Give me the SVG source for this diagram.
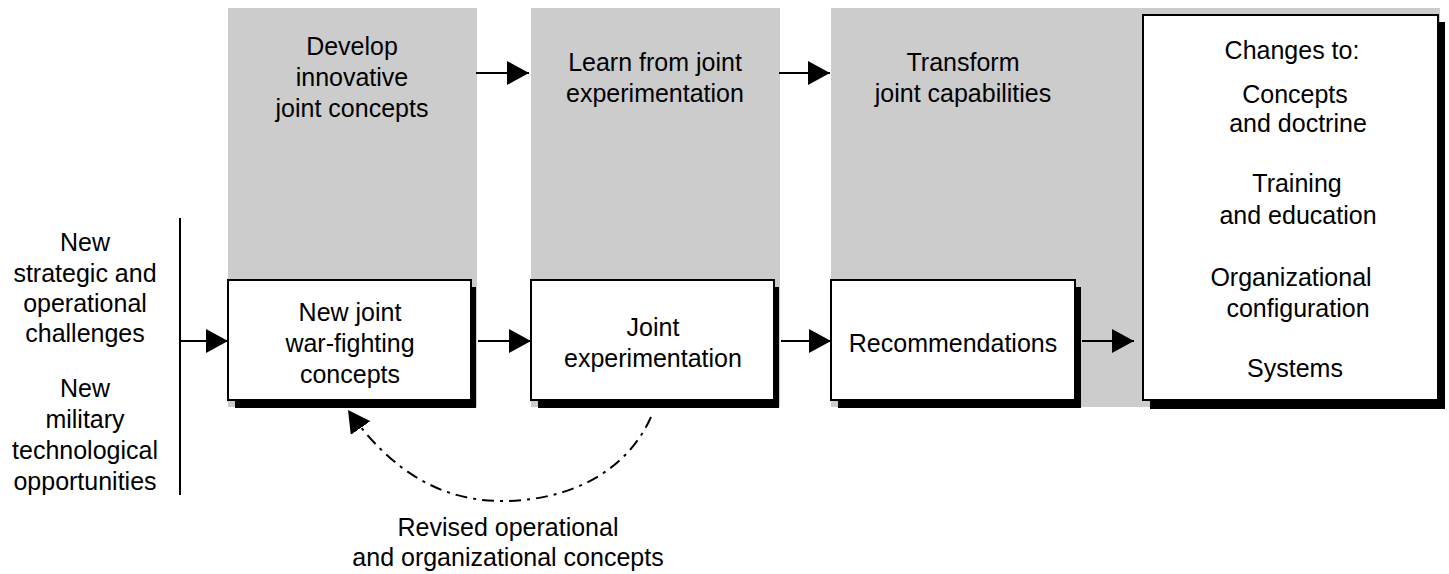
<svg xmlns="http://www.w3.org/2000/svg" width="1449" height="574" viewBox="0 0 1449 574">
<style>
text{font-family:"Liberation Sans",Arial,sans-serif;font-size:25px;fill:#000;text-anchor:middle}
.band{fill:#cccccc}
.box{fill:#fff;stroke:#000;stroke-width:2}
.shadow{fill:#000}
.ln{stroke:#000;stroke-width:2;fill:none}
</style>
<defs>
<marker id="ah" markerWidth="22" markerHeight="24" refX="22" refY="12" orient="auto" markerUnits="userSpaceOnUse">
<path d="M0,0 L22,12 L0,24 Z" fill="#000"/>
</marker>
</defs>
<g id="bands">
<rect class="band" x="228" y="8" width="249" height="399"/>
<rect class="band" x="531" y="8" width="249" height="399"/>
<rect class="band" x="831" y="8" width="609" height="399"/>
</g>
<g id="stage-develop">
<text x="352" y="55">Develop</text>
<text x="352" y="86">innovative</text>
<text x="352" y="117">joint concepts</text>
</g>
<g id="stage-learn">
<text x="655" y="71">Learn from joint</text>
<text x="655" y="102">experimentation</text>
</g>
<g id="stage-transform">
<text x="963" y="71">Transform</text>
<text x="963" y="102">joint capabilities</text>
</g>
<g id="inputs">
<text x="85" y="251">New</text>
<text x="85" y="282">strategic and</text>
<text x="85" y="312">operational</text>
<text x="85" y="342">challenges</text>
<text x="85" y="397">New</text>
<text x="85" y="428">military</text>
<text x="85" y="459">technological</text>
<text x="85" y="490">opportunities</text>
</g>
<g id="node-concepts">
<rect class="shadow" x="235" y="287" width="241" height="121"/>
<rect class="box" x="228" y="280" width="243" height="120"/>
<text x="350" y="321">New joint</text>
<text x="350" y="352">war-fighting</text>
<text x="350" y="383">concepts</text>
</g>
<g id="node-experimentation">
<rect class="shadow" x="538" y="287" width="241" height="121"/>
<rect class="box" x="531" y="280" width="243" height="120"/>
<text x="653" y="336">Joint</text>
<text x="653" y="367">experimentation</text>
</g>
<g id="node-recommendations">
<rect class="shadow" x="838" y="287" width="243" height="121"/>
<rect class="box" x="831" y="280" width="244" height="120"/>
<text x="953" y="352">Recommendations</text>
</g>
<g id="node-changes">
<rect class="shadow" x="1150" y="22" width="295" height="387"/>
<rect class="box" x="1143" y="15" width="295" height="385"/>
<text x="1292" y="59">Changes to:</text>
<text x="1295" y="103">Concepts</text>
<text x="1298" y="132">and doctrine</text>
<text x="1297" y="192">Training</text>
<text x="1298" y="224">and education</text>
<text x="1291" y="286">Organizational</text>
<text x="1298" y="317">configuration</text>
<text x="1295" y="377">Systems</text>
</g>
<g id="connectors">
<line class="ln" x1="180" y1="218" x2="180" y2="495"/>
<line class="ln" x1="180" y1="341" x2="228" y2="341" marker-end="url(#ah)"/>
<line class="ln" x1="478" y1="341" x2="531" y2="341" marker-end="url(#ah)"/>
<line class="ln" x1="781" y1="341" x2="831" y2="341" marker-end="url(#ah)"/>
<line class="ln" x1="1082" y1="341" x2="1134" y2="341" marker-end="url(#ah)"/>
<line class="ln" x1="476" y1="73" x2="529" y2="73" marker-end="url(#ah)"/>
<line class="ln" x1="779" y1="73" x2="830" y2="73" marker-end="url(#ah)"/>
<path class="ln" d="M651,417 C625,475 565,501 502,501 C440,501 390,470 348,410" stroke-dasharray="12,6,3,6" marker-end="url(#ah)"/>
</g>
<g id="feedback-label">
<text x="508" y="536">Revised operational</text>
<text x="508" y="566">and organizational concepts</text>
</g>
</svg>
